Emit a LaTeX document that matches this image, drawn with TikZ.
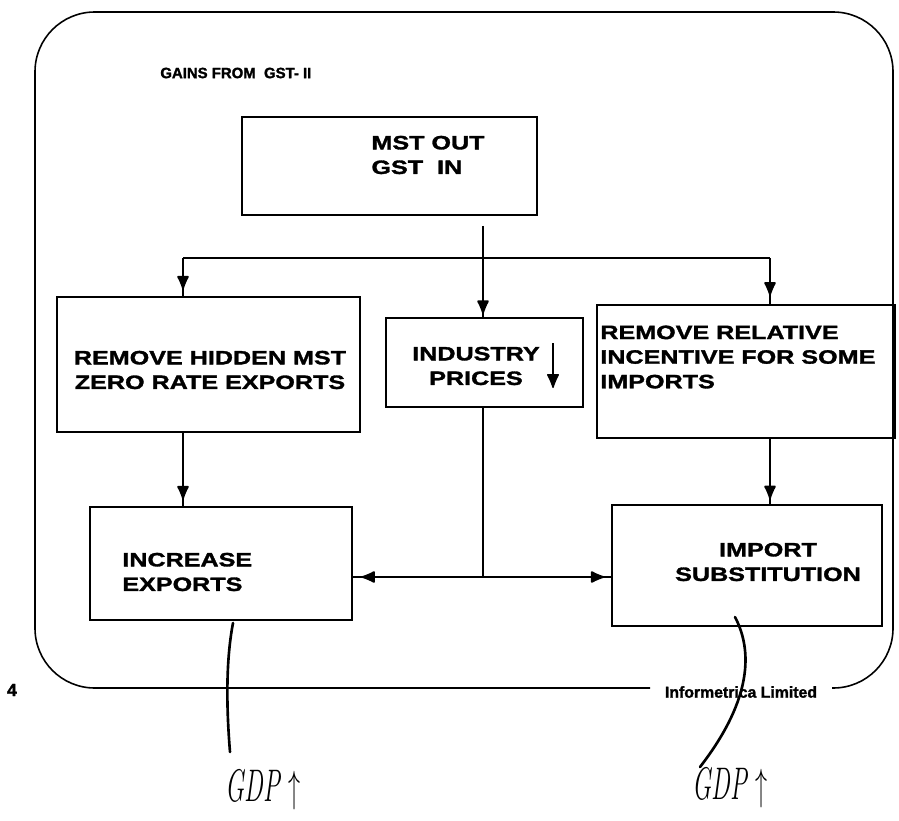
\documentclass[tikz,border=0pt]{standalone}
\usepackage{fontspec}
\newfontfamily\diagfont[FakeStretch=1.3,BoldFeatures={FakeBold=1.6}]{Liberation Sans}
\newfontfamily\smallfont[BoldFeatures={FakeBold=1.6}]{Liberation Sans}
\usetikzlibrary{arrows.meta,decorations.markings}

\begin{document}
\begin{tikzpicture}[
  x=0.02cm, y=-0.02cm,
  box/.style={draw,line width=1.1pt,inner sep=0pt},
  lbl/.style={font=\diagfont\bfseries\fontsize{11}{14}\selectfont,inner sep=0pt},
  link/.style={line width=1.1pt},
  tipat/.style={postaction={decorate},decoration={markings,
    mark=at position #1 with {\arrow{Latex[length=9pt,width=7.5pt,round]}}}},
  hand/.style={line width=1.5pt,line cap=round},
  handtext/.style={font=\itshape\fontsize{26}{26}\selectfont,inner sep=0pt}
]
  \useasboundingbox (0,0) rectangle (899,821);
  % frame, open under the firm's name
  \draw[line width=0.9pt,rounded corners=34pt]
    (650,688) -- (35,688) -- (35,12) -- (893,12) -- (893,688) -- (832,688);
  \node[font=\smallfont\bfseries\fontsize{9}{9}\selectfont,inner sep=0pt] (firm) at (741,692) {Informetrica Limited};
  \node[font=\smallfont\bfseries\fontsize{10}{10}\selectfont,inner sep=0pt] (page) at (12,690) {4};
  \node[font=\smallfont\bfseries\fontsize{8.5}{8.5}\selectfont,anchor=west,inner sep=0pt] (title) at (160,73) {GAINS FROM~~GST- II};

  % boxes
  \node[box,minimum width=5.9cm,minimum height=1.96cm] (mst) at (389.5,166) {};
  \node[box,minimum width=6.06cm,minimum height=2.7cm] (hidden) at (208.5,364.5) {};
  \node[box,minimum width=3.94cm,minimum height=1.78cm] (prices) at (484.5,362.5) {};
  \node[box,minimum width=5.96cm,minimum height=2.66cm] (incent) at (746,371.5) {};
  \node[box,minimum width=5.24cm,minimum height=2.26cm] (incr) at (221,563.5) {};
  \node[box,minimum width=5.4cm,minimum height=2.42cm] (subst) at (747,565.5) {};

  \node[lbl,align=left] (mstt) at (428,155) {MST OUT\\GST~~IN};
  \node[lbl,align=center] (hiddent) at (210,370) {REMOVE HIDDEN MST\\ZERO RATE EXPORTS};
  \node[lbl,align=center] (pricest) at (476,366) {INDUSTRY\\PRICES};
  \node[lbl,align=left,anchor=west] (incentt) at (600,357) {REMOVE RELATIVE\\INCENTIVE FOR SOME\\IMPORTS};
  \node[lbl,align=left,anchor=west] (incrt) at (122,572) {INCREASE\\EXPORTS};
  \node[lbl,align=center] (substt) at (768,562) {IMPORT\\SUBSTITUTION};

  \coordinate (dtop) at (553,343);
  \coordinate (dbot) at (553,388);
  \draw[line width=0.8pt,-{Latex[length=9pt,width=7.5pt,round]}] (dtop) -- (dbot);

  % connectors
  \coordinate (fork) at (483,258);
  \coordinate (forkl) at (183,258);
  \coordinate (forkr) at (770,258);
  \coordinate (join) at (483,577);
  \draw[link,tipat=-2pt] (fork |- mst.south) ++(0,10) -- (fork |- prices.north);
  \draw[link] (forkl) -- (forkr);
  \draw[link,tipat=-4pt] (forkl) -- (forkl |- hidden.north);
  \draw[link,tipat=-5pt] (forkr) -- (forkr |- incent.north);
  \draw[link,tipat=-4pt] (forkl |- hidden.south) -- (forkl |- incr.north);
  \draw[link,tipat=-3pt] (forkr |- incent.south) -- (forkr |- subst.north);
  \draw[link] (fork |- prices.south) -- (join);
  \draw[link,tipat=-5pt] (join) -- (join -| incr.east);
  \draw[link,tipat=-4pt] (join) -- (join -| subst.west);

  % handwritten notes
  \node[handtext] (gdpl) at (263,790) {\scalebox{0.55}[1]{GDP\ $\uparrow$}};
  \node[handtext] (gdpr) at (730,788) {\scalebox{0.55}[1]{GDP\ $\uparrow$}};
  \coordinate (hl0) at (233,623);
  \coordinate (hl1) at (230,752);
  \coordinate (hr0) at (735,617);
  \coordinate (hr1) at (700,767);
  \draw[hand] (hl0) .. controls (225,665) and (227,715) .. (hl1);
  \draw[hand] (hr0) .. controls (755,655) and (748,705) .. (hr1);
\end{tikzpicture}
\end{document}
